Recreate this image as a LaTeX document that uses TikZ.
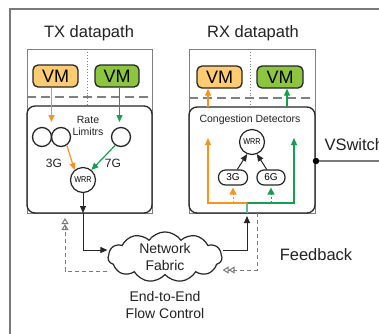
\documentclass[tikz,border=0pt]{standalone}
\usepackage{fontspec}
\setmainfont{Liberation Sans}
\usetikzlibrary{arrows.meta,shapes.symbols,calc}

\definecolor{framegray}{HTML}{7A7A7A}
\definecolor{boxgray}{HTML}{808080}
\definecolor{vmorange}{HTML}{FDCB72}
\definecolor{vmgreen}{HTML}{8CC63F}
\definecolor{arrorange}{HTML}{F7941D}
\definecolor{arrgreen}{HTML}{14A050}
\definecolor{lineorange}{HTML}{F9B57E}
\definecolor{linegreen}{HTML}{5CBD8C}
\definecolor{txtgray}{HTML}{222222}

\tikzset{
  px/.style={x=1pt,y=-1pt},
  title/.style={font=\fontsize{16.5}{18}\selectfont, text=txtgray},
  vmbox/.style={draw=black!85, line width=1.3pt, rounded corners=5pt,
    minimum width=45pt, minimum height=22pt, inner sep=0pt,
    font=\fontsize{18}{18}\selectfont},
  limiter/.style={circle, draw=black!85, line width=1.3pt, minimum size=19pt, inner sep=0pt},
  wrr/.style={circle, draw=black!85, line width=1.2pt, minimum size=25pt, inner sep=0pt,
    font=\fontsize{8.5}{9}\selectfont\addfontfeatures{FakeStretch=0.85}},
  rate/.style={draw=black!85, line width=1.2pt, rounded corners=7pt,
    minimum width=29pt, minimum height=15pt, inner sep=0pt,
    font=\fontsize{10}{10}\selectfont},
  panel/.style={draw=boxgray, line width=1pt},
  inner/.style={draw=black!85, line width=1.3pt, rounded corners=8pt},
  split/.style={draw=boxgray, line width=1.1pt, dash pattern=on 9pt off 5pt},
  divider/.style={draw=boxgray, line width=0.9pt, dotted},
  small/.style={font=\fontsize{10.5}{12}\selectfont, text=txtgray, align=center},
  rlab/.style={font=\fontsize{12}{12}\selectfont, text=txtgray},
  oarrow/.style={draw=arrorange, line width=1.2pt, -{Triangle[length=7pt,width=6pt]}},
  garrow/.style={draw=arrgreen, line width=1.2pt, -{Triangle[length=7pt,width=6pt]}},
  karrow/.style={draw=black!85, line width=1pt, -{Triangle[length=7pt,width=6pt]}},
  fback/.style={draw=framegray, line width=1pt, dash pattern=on 4pt off 3pt,
    -{Triangle[open,length=6pt,width=7pt]Triangle[open,length=6pt,width=7pt]}},
}

\begin{document}
\begin{tikzpicture}[px]
\useasboundingbox (0,0) rectangle (379,333);
\clip (0,0) rectangle (379,333);
\fill[white] (0,0) rectangle (379,333);

% outer frame, running past the page on the right and below
\draw[framegray, line width=2pt] (10,345) -- (10,9) -- (390,9);

% ---------------- TX datapath ----------------
\node[title] (txtitle) at (89,33) {TX datapath};
\draw[panel] (27,49) rectangle (152,213);
\draw[divider] (87,49) -- (87,106);
\draw[split] (27,97) -- (152,97);
\draw[inner] (27,106) rectangle (152,213);
\coordinate (txbot) at (83,213);

\node[vmbox, fill=vmorange] (txvma) at (55.5,76) {VM};
\node[vmbox, fill=vmgreen, minimum width=44pt] (txvmb) at (117,76) {VM};

\node[limiter] (rla) at (42,137) {};
\node[limiter] (rlb) at (61,137) {};
\node[limiter] (rlc) at (121,137) {};
\node[small] (ratelbl) at (88,126) {Rate\\Limitrs};
\coordinate (rlpair) at (51.5,122);
\coordinate (rlsingle) at (119.5,122);

\node[wrr] (txwrr) at (83,180) {WRR};
\node[rlab] (lbl3g) at (54,163) {3G};
\node[rlab] (lbl7g) at (113,163) {7G};

\draw[oarrow] (txvma.south -| rlpair) -- (rlpair);
\draw[garrow] (txvmb.south -| rlsingle) -- (rlsingle);
\draw[oarrow] (rlb.-55) -- (txwrr.130);
\draw[garrow] (rlc.-125) -- (txwrr.50);
\draw[karrow] (txwrr.south) -- (txbot);

% ---------------- network fabric ----------------
\node[cloud, cloud puffs=11, cloud puff arc=110, aspect=2.5, draw=black!85, line width=1.2pt,
  minimum width=114pt, minimum height=46pt, inner sep=0pt, align=center,
  font=\fontsize{14}{16.5}\selectfont, text=txtgray] (fabric) at (165,257) {Network\\Fabric};
\node[font=\fontsize{14}{17.5}\selectfont, text=txtgray, align=center] (e2e) at (165,305)
  {End-to-End\\Flow Control};

\draw[karrow] (txbot) |- ([yshift=7pt]fabric.west);
\coordinate (txfb) at (65,213);
\draw[fback] ([yshift=-14pt]fabric.west) -| ([yshift=-5pt]txfb);

% ---------------- RX datapath ----------------
\node[title] (rxtitle) at (253,33) {RX datapath};
\draw[panel] (189,49) rectangle (315,213);
\draw[divider] (250,49) -- (250,107);
\draw[split] (189,98) -- (315,98);
\draw[inner] (189,107) rectangle (315,213);

\node[vmbox, fill=vmorange] (rxvma) at (219.5,77) {VM};
\node[vmbox, fill=vmgreen, minimum width=46pt] (rxvmb) at (280,77) {VM};

\node[small] (congest) at (250,120) {Congestion Detectors};
\node[wrr] (rxwrr) at (252,142) {WRR};
\node[rate] (rx3g) at (233,177.5) {3G};
\node[rate, minimum width=28pt] (rx6g) at (271,177.5) {6G};
\draw[karrow] (rx3g.62) -- (rxwrr.-112);
\draw[karrow] (rx6g.118) -- (rxwrr.-68);

\coordinate (rxbot) at (247,213);
\coordinate (rxsplit) at (247,203);
\coordinate (otop) at (208,138);
\coordinate (gtop) at (294,138);
\draw[draw=lineorange, line width=1.1pt, -{Triangle[length=7pt,width=6pt]}, arrorange]
  (rxsplit) -| (otop);
\draw[draw=linegreen, line width=1.1pt, -{Triangle[length=7pt,width=6pt]}, arrgreen]
  (rxsplit) -| (gtop);
\draw[linegreen, line width=1.1pt] (rxbot) -- (rxsplit);
\draw[lineorange, line width=0.8pt, dash pattern=on 2pt off 2pt,
  -{Triangle[length=7pt,width=7pt]}, arrorange] (rx3g.south |- rxsplit) -- ([yshift=-2pt]rx3g.south);
\draw[linegreen, line width=0.8pt, dash pattern=on 2pt off 2pt,
  -{Triangle[length=7pt,width=7pt]}, arrgreen] (rx6g.south |- rxsplit) -- ([yshift=-2pt]rx6g.south);

\coordinate (rxoin) at (208,107);
\coordinate (rxgin) at (287,107);
\draw[draw=lineorange, line width=1.1pt, -{Triangle[length=7pt,width=6pt]}, arrorange]
  (rxoin) -- (rxoin |- rxvma.south);
\draw[draw=linegreen, line width=1.1pt, -{Triangle[length=7pt,width=6pt]}, arrgreen]
  (rxgin) -- (rxgin |- rxvmb.south);

\draw[karrow] ([yshift=7pt]fabric.east) -| ([yshift=-3pt]rxbot);
\coordinate (rxfb) at (257,213);
\draw[fback] (rxfb) |- ([yshift=-13pt]fabric.east);

% ---------------- vswitch and feedback labels ----------------
\node[circle, fill=black, inner sep=0pt, minimum size=6.5pt] (vsdot) at (316,161) {};
\draw[framegray, line width=1.6pt] (vsdot) -- (390,161);
\node[title, anchor=west] (vslabel) at (321,145) {VSwitch};
\node[title] (fblabel) at (316,255) {Feedback};
\end{tikzpicture}
\end{document}
